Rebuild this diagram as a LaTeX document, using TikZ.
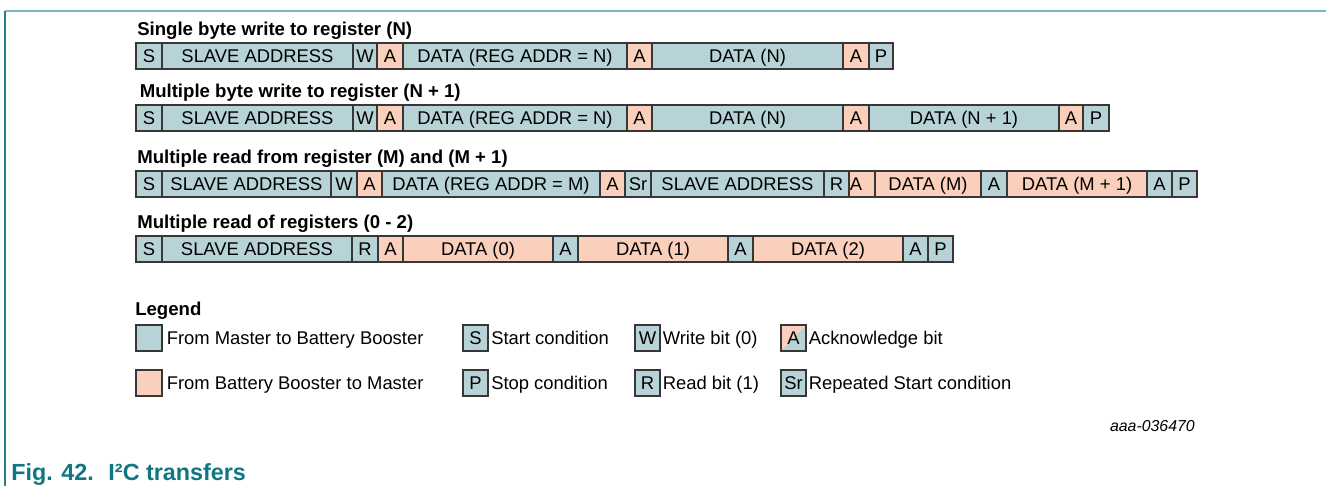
\documentclass[tikz,border=0pt]{standalone}
\usepackage{fontspec}
\setmainfont{Liberation Sans}
\definecolor{mb}{RGB}{184,211,216}
\definecolor{bm}{RGB}{250,208,188}
\definecolor{frameline}{RGB}{122,184,192}
\definecolor{frameleft}{RGB}{40,125,135}
\definecolor{captc}{RGB}{16,118,128}
\definecolor{segline}{RGB}{55,55,55}
\newcommand{\iseg}[6]{%
  \pgfmathsetmacro{\segw}{(#3-#2)*0.75}%
  \node[segbox, fill=#5, minimum width=\segw pt] (#1) at (#2,#4) {#6};}
\begin{document}
\begin{tikzpicture}[x=0.75pt,y=-0.75pt,
  segbox/.style={draw=segline, line width=0.8pt, inner sep=0pt, outer sep=0pt,
    minimum height=19.5pt, text height=9.85pt, text depth=0pt,
    font=\fontsize{13.8}{16}\selectfont, anchor=north west},
  hdr/.style={anchor=base west, inner sep=0pt, font=\bfseries\fontsize{13.95}{16}\selectfont},
  lbl/.style={anchor=west, inner sep=0pt, text height=9.85pt, text depth=0pt,
    font=\fontsize{13.8}{16}\selectfont},
  ackbox/.style={path picture={\fill[bm] (path picture bounding box.north west) --
    (path picture bounding box.north east) -- (path picture bounding box.south west) -- cycle;}}
]
\useasboundingbox (0,0) rectangle (1326,486);
% frame
\draw[frameline, line width=1.5pt] (5,11) -- (1326,11);
\draw[frameleft, line width=1pt] (5,11) -- (5,486);

% Row 1
\node[hdr] (h1) at (137,35) {Single byte write to register (N)};
\iseg{r1s}{136}{162}{43}{mb}{S}
\iseg{r1sa}{162}{353}{43}{mb}{SLAVE ADDRESS}
\iseg{r1w}{353}{377}{43}{mb}{W}
\iseg{r1a}{377}{403}{43}{bm}{A}
\iseg{r1d}{403}{627}{43}{mb}{DATA (REG ADDR = N)}
\iseg{r1a2}{627}{652}{43}{bm}{A}
\iseg{r1dn}{652}{843}{43}{mb}{DATA (N)}
\iseg{r1a3}{843}{869}{43}{bm}{A}
\iseg{r1p}{869}{893}{43}{mb}{P}

% Row 2
\node[hdr] (h2) at (139.5,97) {Multiple byte write to register (N + 1)};
\iseg{r2s}{136}{162}{105}{mb}{S}
\iseg{r2sa}{162}{353}{105}{mb}{SLAVE ADDRESS}
\iseg{r2w}{353}{377}{105}{mb}{W}
\iseg{r2a}{377}{403}{105}{bm}{A}
\iseg{r2d}{403}{627}{105}{mb}{DATA (REG ADDR = N)}
\iseg{r2a2}{627}{652}{105}{bm}{A}
\iseg{r2dn}{652}{843}{105}{mb}{DATA (N)}
\iseg{r2a3}{843}{869}{105}{bm}{A}
\iseg{r2dn1}{869}{1059}{105}{mb}{DATA (N + 1)}
\iseg{r2a4}{1059}{1083}{105}{bm}{A}
\iseg{r2p}{1083}{1109}{105}{mb}{P}

% Row 3
\node[hdr] (h3) at (137,163) {Multiple read from register (M) and (M + 1)};
\iseg{r3s}{136}{162}{171}{mb}{S}
\iseg{r3sa}{162}{331}{171}{mb}{SLAVE ADDRESS}
\iseg{r3w}{331}{357}{171}{mb}{W}
\iseg{r3a}{357}{382}{171}{bm}{A}
\iseg{r3d}{382}{600}{171}{mb}{DATA (REG ADDR = M)}
\iseg{r3a2}{600}{625}{171}{bm}{A}
\iseg{r3sr}{625}{651}{171}{mb}{Sr}
\iseg{r3sa2}{651}{824}{171}{mb}{SLAVE ADDRESS}
\iseg{r3a3}{849}{875}{171}{bm}{\makebox[19.5pt][l]{\hspace{0.6pt}A}}
\iseg{r3r}{824}{849}{171}{mb}{R}
\iseg{r3dm}{875}{981}{171}{bm}{DATA (M)}
\iseg{r3a4}{981}{1007}{171}{mb}{A}
\iseg{r3dm1}{1007}{1147}{171}{bm}{DATA (M + 1)}
\iseg{r3a5}{1147}{1172}{171}{mb}{A}
\iseg{r3p}{1172}{1197}{171}{mb}{P}

% Row 4
\node[hdr] (h4) at (137,228) {Multiple read of registers (0 - 2)};
\iseg{r4s}{136}{162}{236}{mb}{S}
\iseg{r4sa}{162}{352}{236}{mb}{SLAVE ADDRESS}
\iseg{r4r}{352}{378}{236}{mb}{R}
\iseg{r4a}{378}{403}{236}{bm}{A}
\iseg{r4d0}{403}{553}{236}{bm}{DATA (0)}
\iseg{r4a2}{553}{578}{236}{mb}{A}
\iseg{r4d1}{578}{728}{236}{bm}{DATA (1)}
\iseg{r4a3}{728}{753}{236}{mb}{A}
\iseg{r4d2}{753}{903}{236}{bm}{DATA (2)}
\iseg{r4a4}{903}{928}{236}{mb}{A}
\iseg{r4p}{928}{953}{236}{mb}{P}

% Legend
\node[hdr] (lgh) at (135,315.5) {Legend};
\iseg{lg1}{136}{162}{325}{mb}{}
\node[lbl] (lg1t) at (166.5,338) {From Master to Battery Booster};
\iseg{lg2}{136}{162}{370}{bm}{}
\node[lbl] (lg2t) at (166.5,383) {From Battery Booster to Master};
\iseg{lgs}{463}{488}{325}{mb}{S}
\node[lbl] (lgst) at (491,338) {Start condition};
\iseg{lgp}{463}{488}{370}{mb}{P}
\node[lbl] (lgpt) at (491,383) {Stop condition};
\iseg{lgw}{635}{660}{325}{mb}{W}
\node[lbl] (lgwt) at (662.5,338) {Write bit (0)};
\iseg{lgr}{635}{660}{370}{mb}{R}
\node[lbl] (lgrt) at (662.5,383) {Read bit (1)};
\node[segbox, fill=mb, ackbox, minimum width=18.75pt] (lga) at (781,325) {A};
\node[lbl] (lgat) at (808.5,338) {Acknowledge bit};
\iseg{lgsr}{781}{806}{370}{mb}{Sr}
\node[lbl] (lgsrt) at (808.5,383) {Repeated Start condition};

% code + caption
\node[anchor=base east, inner sep=0pt, font=\itshape\fontsize{11.9}{14}\selectfont] (code) at (1195,431) {aaa-036470};
\node[anchor=base west, inner sep=0pt, text=captc, font=\bfseries\fontsize{17.5}{20}\selectfont] (cap) at (11,480) {Fig. 42.\hspace{11pt}I²C transfers};
\end{tikzpicture}
\end{document}
